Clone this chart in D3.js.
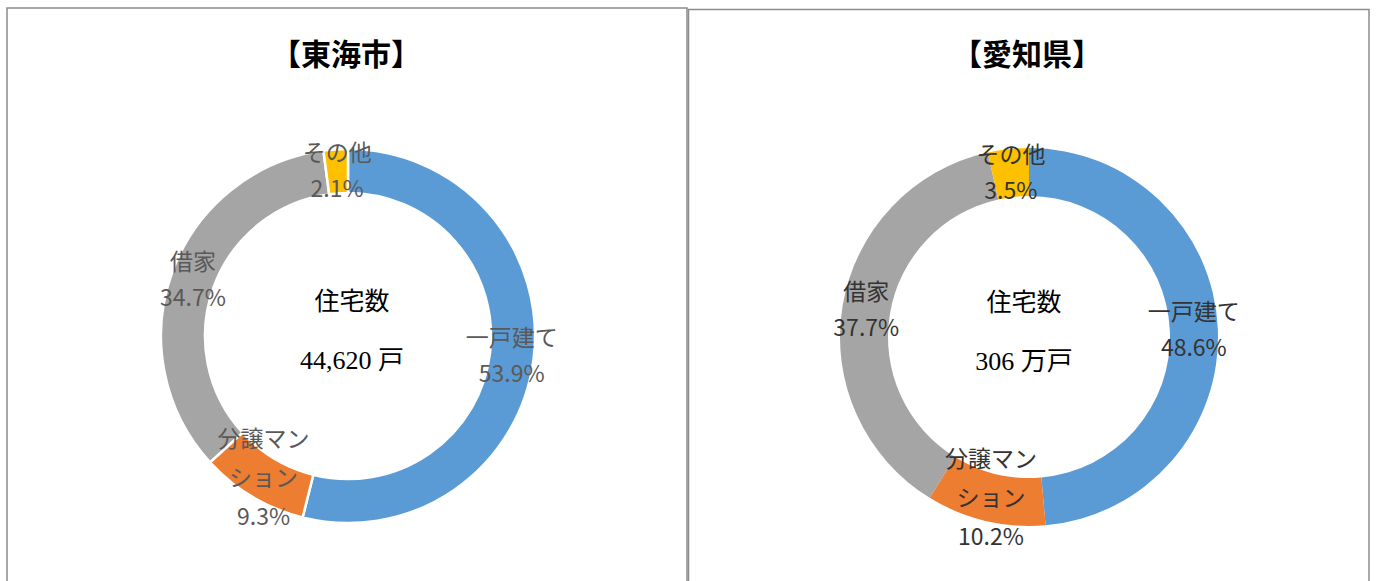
<!DOCTYPE html>
<html>
<head>
<meta charset="utf-8">
<script src="https://cdn.jsdelivr.net/npm/d3@7"></script>
<style>
  body { margin: 0; background: #fff; }
  text { font-family: "Noto Sans CJK JP", "Noto Sans", sans-serif; }
</style>
</head>
<body>
<div id="chart"></div>
<script>
const width = 1377, height = 581;

// data
const categories = ["一戸建て", "分譲マンション", "借家", "その他"];
const labelLines = [["一戸建て"], ["分譲マン", "ション"], ["借家"], ["その他"]];
const titles = ["【東海市】", "【愛知県】"];
const totals = ["44,620 戸", "306 万戸"];
const tokaiValues = [53.9, 9.3, 34.7, 2.1];
const aichiValues = [48.6, 10.2, 37.7, 3.5];

const colors = ["#5b9bd5", "#ed7d31", "#a5a5a5", "#ffc000"];

const panels = [
  {x: 7, y: 8, w: 680, cx: 348, cy: 336, ro: 187, ri: 143, values: tokaiValues,
   sep: 2.5, labelColor: "#595959", centerDx: 4},
  {x: 688.5, y: 9.5, w: 680.5, cx: 1029, cy: 337, ro: 189, ri: 141, values: aichiValues,
   sep: 0, labelColor: "#333333", centerDx: -5}
];

const svg = d3.select("#chart")
  .append("svg")
    .attr("width", width)
    .attr("height", height);

const pie = d3.pie().sort(null).value(d => d);

panels.forEach((p, pi) => {
  // frame
  svg.append("rect")
    .attr("x", p.x)
    .attr("y", p.y)
    .attr("width", p.w)
    .attr("height", height + 20)
    .attr("fill", "none")
    .attr("stroke", "#8c8c8c")
    .attr("stroke-width", 1.5);

  // title
  svg.append("text")
    .attr("x", p.cx - 2)
    .attr("y", 54)
    .attr("dy", "0.35em")
    .attr("text-anchor", "middle")
    .style("font-size", "30px")
    .style("font-weight", "bold")
    .style("fill", "#000")
    .text(titles[pi]);

  const g = svg.append("g")
    .attr("transform", `translate(${p.cx},${p.cy})`);

  const arc = d3.arc().innerRadius(p.ri).outerRadius(p.ro);
  const labelArc = d3.arc().innerRadius((p.ri + p.ro) / 2).outerRadius((p.ri + p.ro) / 2);
  const arcs = pie(p.values);

  g.selectAll("path")
    .data(arcs)
    .join("path")
      .attr("d", arc)
      .attr("fill", (d, i) => colors[i])
      .attr("stroke", p.sep ? "#fff" : "none")
      .attr("stroke-width", p.sep);

  // data labels at centroid
  const labels = g.selectAll("text.lbl")
    .data(arcs)
    .join("text")
      .attr("class", "lbl")
      .attr("text-anchor", "middle")
      .style("font-size", "23px")
      .style("fill", p.labelColor);

  labels.each(function(d, i) {
    const [lx, ly] = labelArc.centroid(d);
    const lines = labelLines[i].concat([d.value.toFixed(1) + "%"]);
    const step = lines.length > 2 ? 39 : 36;
    const top = ly - step * (lines.length - 1) / 2;
    d3.select(this).selectAll("tspan")
      .data(lines)
      .join("tspan")
        .attr("x", lx)
        .attr("y", (t, k) => top + k * step)
        .attr("dy", "0.35em")
        .text(t => t);
  });

  // center text
  g.append("text")
    .attr("x", p.centerDx)
    .attr("y", -35)
    .attr("dy", "0.35em")
    .attr("text-anchor", "middle")
    .style("font-size", "25px")
    .style("fill", "#000")
    .text("住宅数");

  g.append("text")
    .attr("x", p.centerDx)
    .attr("y", 24)
    .attr("dy", "0.35em")
    .attr("text-anchor", "middle")
    .style("font-family", "'Liberation Serif', 'Noto Sans CJK JP', serif")
    .style("font-size", "26px")
    .style("fill", "#000")
    .text(totals[pi]);
});
</script>
</body>
</html>
